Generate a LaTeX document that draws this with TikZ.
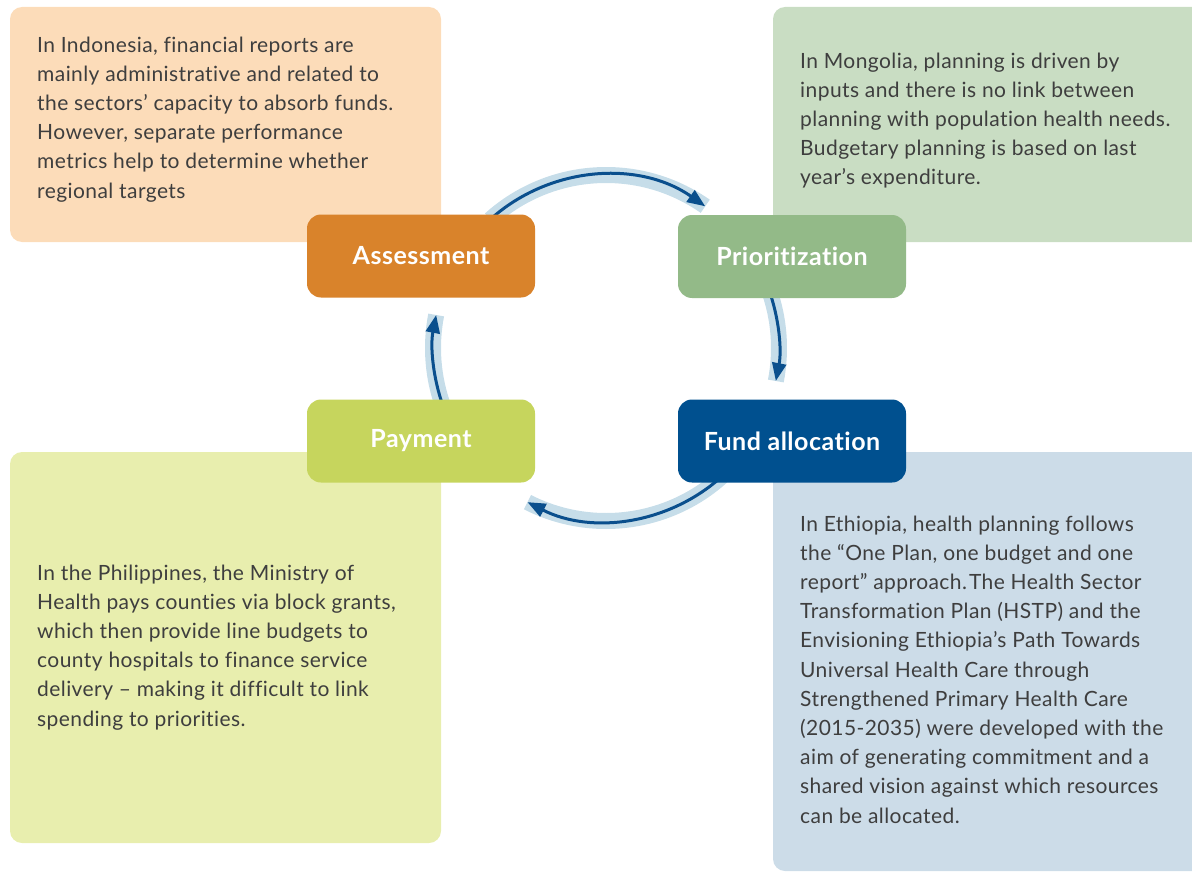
\documentclass[tikz,border=0pt]{standalone}
\usepackage{fontspec}
\setmainfont{Lato}[Ligatures=NoCommon]
\frenchspacing
\usetikzlibrary{arrows.meta}
\definecolor{textgray}{HTML}{3E3E3E}
\definecolor{peach}{HTML}{FCDCB9}
\definecolor{sage}{HTML}{C9DDC3}
\definecolor{lime}{HTML}{E8EEAE}
\definecolor{steel}{HTML}{CCDCE8}
\definecolor{assessorange}{HTML}{D9832B}
\definecolor{priogreen}{HTML}{93BA88}
\definecolor{paylime}{HTML}{C6D55D}
\definecolor{fundblue}{HTML}{00508F}
\definecolor{bandblue}{HTML}{C6DDE9}
\definecolor{flowblue}{HTML}{0A4F8D}
\begin{document}
\begin{tikzpicture}[x=1pt,y=1pt,
  bgbox/.style={rounded corners=12pt},
  body/.style={anchor=north west, inner sep=0pt, align=left, text=textgray,
    font=\fontsize{21}{29.2}\selectfont\addfontfeature{LetterSpace=2}},
  stage/.style={rounded corners=14pt, minimum width=228pt, minimum height=83pt,
    inner sep=0pt, text=white, font=\fontsize{25}{28}\selectfont\bfseries\addfontfeature{LetterSpace=2}},
  band/.style={line width=16pt, draw=bandblue},
  flow/.style={line width=3pt, draw=flowblue, -{Triangle[length=18pt,width=14pt]}}]

\useasboundingbox (0,0) rectangle (1192,-872);
\clip (0,0) rectangle (1192,-872);

% background panels
\fill[bgbox, peach] (10,-7) rectangle (441,-242);
\fill[bgbox, sage]  (773,-7) rectangle (1215,-242);
\fill[bgbox, lime]  (10,-452) rectangle (441,-843);
\fill[bgbox, steel] (773,-452) rectangle (1215,-871);

% texts
\node[body] (indo) at (37,-36.5) {In Indonesia, financial reports are\\
mainly administrative and related to\\
the sectors’ capacity to absorb funds.\\
However, separate performance\\
metrics help to determine whether\\
regional targets};

\node[body] (mongo) at (800,-52.5) {In Mongolia, planning is driven by\\
inputs and there is no link between\\
planning with population health needs.\\
Budgetary planning is based on last\\
year’s expenditure.};

\node[body] (phil) at (37,-564.5) {In the Philippines, the Ministry of\\
Health pays counties via block grants,\\
which then provide line budgets to\\
county hospitals to finance service\\
delivery – making it difficult to link\\
spending to priorities.};

\node[body] (ethi) at (800,-515.5) {In Ethiopia, health planning follows\\
the “One Plan, one budget and one\\
report” approach.\hspace{2pt}The Health Sector\\
Transformation Plan (HSTP) and the\\
Envisioning Ethiopia’s Path Towards\\
Universal Health Care through\\
Strengthened Primary Health Care\\
(2015-2035) were developed with the\\
aim of generating commitment and a\\
shared vision against which resources\\
can be allocated.};

% cycle arcs
\coordinate (O) at (606,-348);
\coordinate (a1) at ([shift={(132:173pt)}]O);
\coordinate (a2) at ([shift={(20:173pt)}]O);
\coordinate (a3) at ([shift={(-48:173pt)}]O);
\coordinate (a4) at ([shift={(200:173pt)}]O);

\draw[band] (a1) arc[start angle=132, end angle=55, radius=173pt];
\draw[flow] (a1) arc[start angle=132, end angle=55, radius=173pt];
\draw[band] (a2) arc[start angle=20, end angle=-11, radius=173pt];
\draw[flow] (a2) arc[start angle=20, end angle=-11, radius=173pt];
\draw[band] (a3) arc[start angle=-48, end angle=-117, radius=173pt];
\draw[flow] (a3) arc[start angle=-48, end angle=-117, radius=173pt];
\draw[band] (a4) arc[start angle=200, end angle=169, radius=173pt];
\draw[flow] (a4) arc[start angle=200, end angle=169, radius=173pt];

% stage boxes
\node[stage, fill=assessorange] (assess) at (421,-256) {Assessment};
\node[stage, fill=priogreen] (prio) at (792,-256.5) {Prioritization};
\node[stage, fill=paylime] (pay) at (421,-441) {Payment};
\node[stage, fill=fundblue] (fund) at (792,-441) {Fund allocation};
\end{tikzpicture}
\end{document}
